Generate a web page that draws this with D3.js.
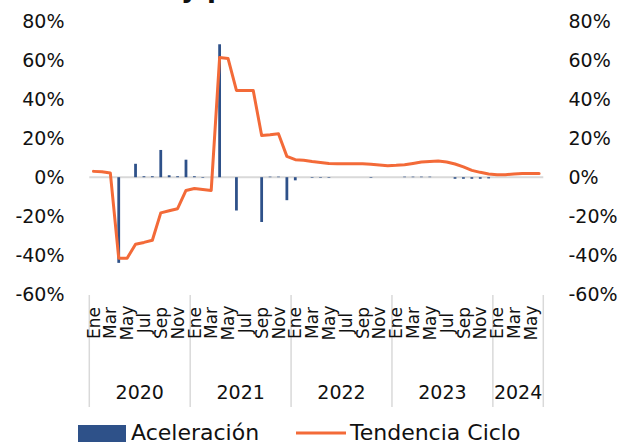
<!DOCTYPE html>
<html>
<head>
<meta charset="utf-8">
<script src="https://cdn.jsdelivr.net/npm/d3@7"></script>
<style>
  html, body { margin: 0; padding: 0; background: #fff; }
  svg { display: block; font-family: "DejaVu Sans", sans-serif; }
</style>
</head>
<body>
<svg id="chart" width="626" height="442"></svg>
<script>
// ---- Data ----
const years = ["2020", "2021", "2022", "2023", "2024"];
const monthNames = ["Ene","Feb","Mar","Abr","May","Jun","Jul","Ago","Sep","Oct","Nov","Dic"];
const monthsPerYear = [12, 12, 12, 12, 6];
const shownMonths = ["Ene","Mar","May","Jul","Sep","Nov"];

const aceleracion = [
  0, 0, 0, -44, 0, 6.9, 0.5, 0.5, 14, 1, 0.5, 9,
  0.5, -0.3, 0, 68.3, 0, -17.1, 0, 0, -23, 0.3, 0.3, -11.8,
  -1.6, 0, -0.3, -0.3, -0.3, 0, 0, 0, 0, -0.3, 0, 0,
  0, 0.3, 0.3, 0.3, 0.3, 0, 0, -0.8, -0.8, -0.8, -0.8, -0.6,
  0, 0, 0, 0, 0, 0
];
const tendenciaCiclo = [
  3.0, 2.8, 2.2, -41.6, -41.6, -34.4, -33.5, -32.4, -18.3, -17.2, -16.2, -6.8,
  -5.8, -6.3, -6.8, 61.5, 61.0, 44.6, 44.6, 44.6, 21.4, 21.8, 22.3, 10.7,
  9.0, 8.7, 8.1, 7.6, 7.1, 6.9, 6.9, 6.9, 6.9, 6.7, 6.3, 5.9,
  6.1, 6.4, 7.1, 7.8, 8.1, 8.3, 7.8, 6.8, 5.3, 3.5, 2.5, 1.7,
  1.3, 1.3, 1.7, 1.9, 1.9, 1.9
];
const yTicks = [80, 60, 40, 20, 0, -20, -40, -60];
const legendLabels = ["Aceleración", "Tendencia Ciclo"];

// ---- Build month records ----
const months = [];
years.forEach((y, yi) => {
  for (let m = 0; m < monthsPerYear[yi]; m++) {
    months.push({ key: y + "-" + m, year: y, month: monthNames[m] });
  }
});
months.forEach((d, i) => { d.acc = aceleracion[i]; d.tc = tendenciaCiclo[i]; });

// ---- Layout ----
const svg = d3.select("#chart");
const left = 89.3, right = 543.3;
const x = d3.scaleBand().domain(months.map(d => d.key)).range([left, right]).paddingInner(0.67).paddingOuter(0.335);
const xs = d3.scaleBand().domain(months.map(d => d.key)).range([left, right]);
const y = d3.scaleLinear().domain([-60, 80]).range([294, 21.5]);

const blue = "#2e5189";
const orange = "#f36a38";
const grey = "#d9d9d9";

// Title fragment (cut off at top)
svg.append("text").attr("x", 181).attr("y", -3)
  .attr("font-size", 26).attr("font-weight", "bold").attr("fill", "#111")
  .text("y p");

// Y axes labels
const tickFont = 19;
svg.append("g").selectAll("text").data(yTicks).join("text")
  .attr("x", 64.5).attr("y", d => y(d)).attr("dy", "0.36em")
  .attr("text-anchor", "end").attr("font-size", tickFont).attr("fill", "#111")
  .text(d => d + "%");
svg.append("g").selectAll("text").data(yTicks).join("text")
  .attr("x", 568.5).attr("y", d => y(d)).attr("dy", "0.36em")
  .attr("text-anchor", "start").attr("font-size", tickFont).attr("fill", "#111")
  .text(d => d + "%");

// Zero line
svg.append("line").attr("x1", left).attr("x2", right)
  .attr("y1", y(0)).attr("y2", y(0)).attr("stroke", grey).attr("stroke-width", 2);

// Bars
svg.append("g").selectAll("rect").data(months).join("rect")
  .attr("x", d => x(d.key)).attr("width", x.bandwidth())
  .attr("y", d => y(Math.max(0, d.acc)))
  .attr("height", d => Math.abs(y(d.acc) - y(0)))
  .attr("fill", blue);

// Line
const line = d3.line().x(d => xs(d.key) + xs.bandwidth() / 2).y(d => y(d.tc));
svg.append("path").datum(months).attr("d", line)
  .attr("fill", "none").attr("stroke", orange).attr("stroke-width", 3)
  .attr("stroke-linejoin", "round").attr("stroke-linecap", "round");

// Year separators
let idx = 0;
const boundaries = [left];
years.forEach((yr, yi) => { idx += monthsPerYear[yi]; boundaries.push(idx < months.length ? xs(months[idx].key) : right); });
svg.append("g").selectAll("line").data(boundaries).join("line")
  .attr("x1", d => d).attr("x2", d => d).attr("y1", 295).attr("y2", 407)
  .attr("stroke", grey).attr("stroke-width", 1.5);

// Month labels (rotated)
svg.append("g").selectAll("text").data(months.filter(d => shownMonths.includes(d.month))).join("text")
  .attr("transform", d => `translate(${xs(d.key) + xs.bandwidth() / 2},323) rotate(-90)`)
  .attr("text-anchor", "middle").attr("dy", "0.36em")
  .attr("font-size", 17).attr("fill", "#111")
  .text(d => d.month);

// Year labels
svg.append("g").selectAll("text").data(years).join("text")
  .attr("x", (d, i) => (boundaries[i] + boundaries[i + 1]) / 2)
  .attr("y", 392).attr("dy", "0.36em")
  .attr("text-anchor", "middle").attr("font-size", 19).attr("fill", "#111")
  .text(d => d);

// Legend
svg.append("rect").attr("x", 78).attr("y", 425).attr("width", 48).attr("height", 20).attr("fill", blue);
svg.append("text").attr("x", 131).attr("y", 440).attr("font-size", 22).attr("fill", "#111").text(legendLabels[0]);
svg.append("line").attr("x1", 296).attr("x2", 346).attr("y1", 433).attr("y2", 433)
  .attr("stroke", orange).attr("stroke-width", 3);
svg.append("text").attr("x", 350).attr("y", 440).attr("font-size", 22).attr("fill", "#111").text(legendLabels[1]);
</script>
</body>
</html>
